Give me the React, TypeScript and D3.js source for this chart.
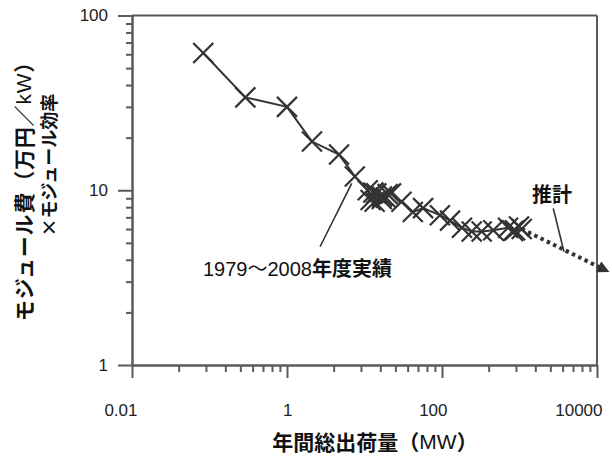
import { useRef, useEffect } from "react";
import * as d3 from "d3";

// annual shipments (MW) and module cost x efficiency, 1979-2008
const shipmentsMW = [
  0.083, 0.29, 1.0, 2.1, 4.7, 7.5, 11, 12, 13, 13.5, 14.2, 16.8, 19.9, 18.8, 16.7,
  22, 30, 42, 57, 94, 127, 181, 242, 325, 459, 711, 875, 986, 825, 1067,
];
const costIndex = [
  61, 34, 30, 19, 16, 12, 10.0, 8.8, 9.7, 8.6, 9.6, 9.2, 9.5, 9.1, 8.9,
  9.6, 8.6, 7.5, 7.9, 7.2, 6.7, 6.1, 5.8, 5.8, 5.9, 6.1, 5.9, 6.2, 5.85, 6.0,
];
// estimate (dotted arrow)
const estShipments = [1067, 12700];
const estCost = [6.0, 3.5];

const xTicks = [0.01, 1, 100, 10000];
const xTickLabels = ["0.01", "1", "100", "10000"];
const yTicks = [1, 10, 100];
const yTickLabels = ["1", "10", "100"];

// leader lines (data space): [x1, y1, x2, y2]
const actualLeader = [2.67, 4.75, 6.84, 10.96];
const estLeader = [2730, 7.88, 3750, 4.45];

const W = 612;
const H = 460;

export default function App() {
  const svgRef = useRef<SVGSVGElement | null>(null);

  useEffect(() => {
    const left = 132,
      right = 597,
      top = 15.5,
      bottom = 365;
    const x = d3.scaleLog().domain([0.01, 10000]).range([left, right]);
    const y = d3.scaleLog().domain([1, 100]).range([bottom, top]);

    const svg = d3.select(svgRef.current);
    svg.selectAll("*").remove();

    const axisColor = "#5a5a5a";
    const ink = "#333";
    const latin = "'Liberation Sans', Arial, sans-serif";
    const cjk = "'Noto Sans CJK JP', sans-serif";

    svg
      .append("defs")
      .append("marker")
      .attr("id", "arrow")
      .attr("viewBox", "0 0 10 10")
      .attr("refX", 6)
      .attr("refY", 5)
      .attr("markerUnits", "userSpaceOnUse")
      .attr("markerWidth", 13)
      .attr("markerHeight", 12)
      .attr("orient", "auto")
      .append("path")
      .attr("d", "M0,0L10,5L0,10z")
      .attr("fill", ink);

    // minor ticks: x axis uses k^2 spacing in each 2-decade step (as in original)
    const xMinor: number[] = [];
    [0.01, 1, 100].forEach((b) => d3.range(2, 10).forEach((k) => xMinor.push(b * k * k)));
    const yMinor: number[] = [];
    [1, 10].forEach((b) => d3.range(2, 10).forEach((k) => yMinor.push(b * k)));

    const styleAxis = (g: any) => {
      g.select(".domain").attr("stroke", axisColor).attr("stroke-width", 2);
      g.selectAll(".tick line").attr("stroke", axisColor).attr("stroke-width", 2);
      g.selectAll(".tick text")
        .attr("fill", "#222")
        .attr("font-family", latin)
        .attr("font-size", 17);
    };

    // frame top / right
    svg
      .append("line")
      .attr("x1", x(0.01))
      .attr("x2", x(10000))
      .attr("y1", y(100))
      .attr("y2", y(100))
      .attr("stroke", axisColor)
      .attr("stroke-width", 2);
    svg
      .append("line")
      .attr("x1", x(10000))
      .attr("x2", x(10000))
      .attr("y1", y(100))
      .attr("y2", y(1))
      .attr("stroke", axisColor)
      .attr("stroke-width", 2);

    svg
      .append("g")
      .attr("transform", `translate(0,${bottom})`)
      .call(d3.axisBottom(x).tickValues(xMinor).tickSize(7).tickSizeOuter(0).tickFormat(() => ""))
      .call(styleAxis);
    svg
      .append("g")
      .attr("transform", `translate(0,${bottom})`)
      .call(
        d3
          .axisBottom(x)
          .tickValues(xTicks)
          .tickSize(13)
          .tickSizeOuter(0)
          .tickPadding(26)
          .tickFormat((_d, i) => xTickLabels[i])
      )
      .call(styleAxis)
      .selectAll(".tick text")
      .attr("text-anchor", "end")
      .attr("dx", 5);

    svg
      .append("g")
      .attr("transform", `translate(${left},0)`)
      .call(d3.axisLeft(y).tickValues(yMinor).tickSize(6).tickSizeOuter(0).tickFormat(() => ""))
      .call(styleAxis);
    svg
      .append("g")
      .attr("transform", `translate(${left},0)`)
      .call(
        d3
          .axisLeft(y)
          .tickValues(yTicks)
          .tickSize(14)
          .tickSizeOuter(0)
          .tickPadding(10)
          .tickFormat((_d, i) => yTickLabels[i])
      )
      .call(styleAxis);

    // actual series
    const pts = shipmentsMW.map((s, i) => ({ s, c: costIndex[i] }));
    const line = d3
      .line<{ s: number; c: number }>()
      .x((d) => x(d.s))
      .y((d) => y(d.c));

    svg
      .append("path")
      .datum(pts)
      .attr("d", line)
      .attr("fill", "none")
      .attr("stroke", ink)
      .attr("stroke-width", 2);

    svg
      .append("g")
      .selectAll("path")
      .data(pts)
      .join("path")
      .attr("transform", (d) => `translate(${x(d.s)},${y(d.c)})`)
      .attr("d", "M-10,-10L10,10M-10,10L10,-10")
      .attr("stroke", ink)
      .attr("stroke-width", 2.2)
      .attr("fill", "none");

    // estimate
    const est = estShipments.map((s, i) => ({ s, c: estCost[i] }));
    svg
      .append("path")
      .datum(est)
      .attr("d", line)
      .attr("fill", "none")
      .attr("stroke", ink)
      .attr("stroke-width", 4)
      .attr("stroke-dasharray", "3.5 3.5")
      .attr("marker-end", "url(#arrow)");

    // leaders
    [actualLeader, estLeader].forEach((l) => {
      svg
        .append("line")
        .attr("x1", x(l[0]))
        .attr("y1", y(l[1]))
        .attr("x2", x(l[2]))
        .attr("y2", y(l[3]))
        .attr("stroke", ink)
        .attr("stroke-width", 1.6);
    });

    // annotations
    const a = svg
      .append("text")
      .attr("x", 203)
      .attr("y", 276)
      .attr("font-size", 20)
      .attr("fill", "#111");
    a.append("tspan").attr("font-family", latin).text("1979");
    a.append("tspan").attr("font-family", cjk).text("～");
    a.append("tspan").attr("font-family", latin).text("2008");
    a.append("tspan").attr("font-family", cjk).attr("font-weight", 700).text("年度実績");

    svg
      .append("text")
      .attr("x", 552)
      .attr("y", 193)
      .attr("text-anchor", "middle")
      .attr("dominant-baseline", "central")
      .attr("font-family", cjk)
      .attr("font-weight", 700)
      .attr("font-size", 20)
      .attr("fill", "#111")
      .text("推計");

    // x title
    const xt = svg
      .append("text")
      .attr("x", 375)
      .attr("y", 441)
      .attr("text-anchor", "middle")
      .attr("dominant-baseline", "central")
      .attr("font-family", cjk)
      .attr("font-size", 21)
      .attr("font-weight", 700)
      .attr("fill", "#111");
    xt.append("tspan").text("年間総出荷量（");
    xt.append("tspan").attr("font-weight", 400).attr("font-family", latin).text("MW");
    xt.append("tspan").text("）");

    // y title (two lines)
    const yt1 = svg
      .append("text")
      .attr("transform", "translate(23,186) rotate(-90)")
      .attr("text-anchor", "middle")
      .attr("dominant-baseline", "central")
      .attr("font-family", cjk)
      .attr("font-size", 21)
      .attr("font-weight", 700)
      .attr("letter-spacing", 0.8)
      .attr("fill", "#111");
    yt1.append("tspan").text("モジュール費（万円／");
    yt1.append("tspan").attr("font-weight", 400).attr("font-family", latin).text("kW");
    yt1.append("tspan").text("）");

    svg
      .append("text")
      .attr("transform", "translate(48,165) rotate(-90)")
      .attr("text-anchor", "middle")
      .attr("dominant-baseline", "central")
      .attr("font-family", cjk)
      .attr("font-weight", 700)
      .attr("font-size", 18)
      .attr("fill", "#111")
      .text("×モジュール効率");
  }, []);

  return (
    <svg
      ref={svgRef}
      width={W}
      height={H}
      style={{ position: "absolute", left: 0, top: 0, background: "#fff" }}
    ></svg>
  );
}
